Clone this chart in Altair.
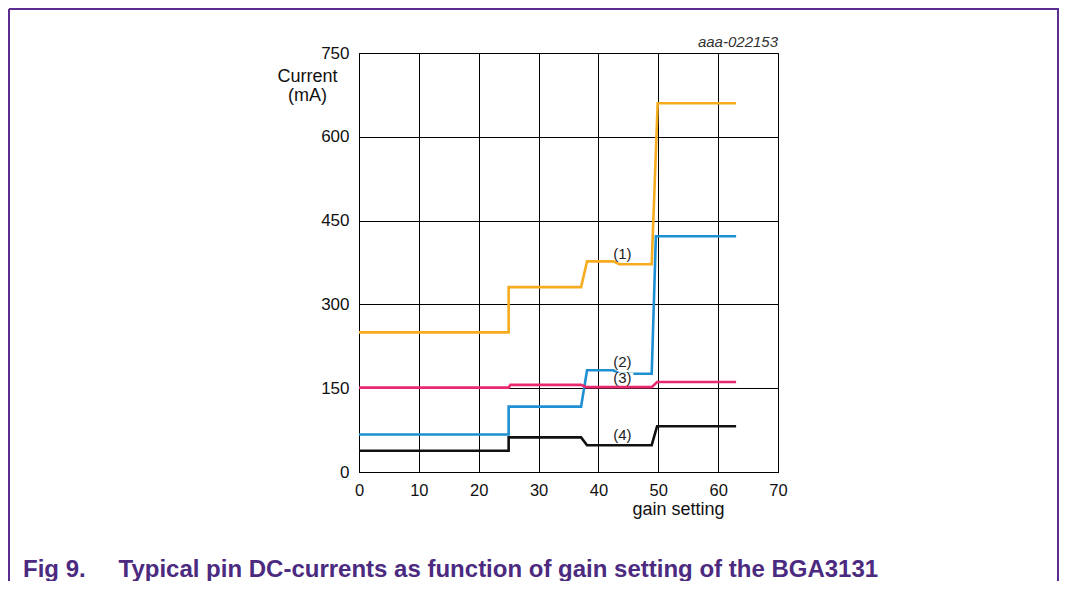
import altair as alt
import pandas as pd

# ---- data ----
x_1 = [0, 25, 25, 37.1, 38.1, 42.5, 43.5, 48.9, 49.9, 63]
y_1 = [250, 250, 331, 331, 377, 377, 372, 372, 660, 660]

x_2 = [0, 25, 25, 37.1, 38.1, 42.5, 43.5, 48.9, 49.6, 63]
y_2 = [67, 67, 117, 117, 182, 182, 176, 176, 422, 422]

x_3 = [0, 25, 25.3, 37.1, 38.0, 48.9, 49.8, 63]
y_3 = [151, 151, 156, 156, 152, 152, 161, 161]

x_4 = [0, 25, 25, 37.1, 38.1, 48.9, 49.8, 63]
y_4 = [38, 38, 62, 62, 48, 48, 82, 82]

series_names = ["(1)", "(2)", "(3)", "(4)"]
series_colors = ["#F6AC1E", "#1E8FD2", "#E8296F", "#111111"]

label_text = ["(1)", "(2)", "(3)", "(4)"]
label_x = [44, 44, 44, 44]
label_y = [391, 197, 169, 66]

x_ticks = [0, 10, 20, 30, 40, 50, 60, 70]
y_ticks = [0, 150, 300, 450, 600, 750]

FONT = "Liberation Sans"
PURPLE = "#4B2A80"

rows = []
for name, xs, ys in zip(series_names, [x_1, x_2, x_3, x_4], [y_1, y_2, y_3, y_4]):
    for i, (xv, yv) in enumerate(zip(xs, ys)):
        rows.append({"series": name, "x": xv, "y": yv, "order": i})
df = pd.DataFrame(rows)
labels = pd.DataFrame({"t": label_text, "x": label_x, "y": label_y})

xscale = alt.Scale(domain=[0, 70], nice=False, zero=False)
yscale = alt.Scale(domain=[0, 750], nice=False)

lines = alt.Chart(df).mark_line(strokeWidth=2.6, strokeJoin="miter").encode(
    x=alt.X("x:Q", scale=xscale,
            axis=alt.Axis(values=x_ticks, grid=True, gridColor="black", gridOpacity=1,
                          gridWidth=1, ticks=False, tickSize=0, domainColor="black",
                          labelFont=FONT, labelFontSize=16.5, labelColor="#111",
                          labelPadding=10, labelFlush=False,
                          title="gain setting", titleFont=FONT, titleFontSize=18,
                          titleFontWeight="normal", titleColor="#111",
                          titleX=319, titleY=42, titleBaseline="alphabetic",
                          titleAlign="center")),
    y=alt.Y("y:Q", scale=yscale,
            axis=alt.Axis(values=y_ticks, grid=True, gridColor="black", gridOpacity=1,
                          gridWidth=1, ticks=False, tickSize=0, domainColor="black",
                          labelFont=FONT, labelFontSize=17, labelColor="#111",
                          labelPadding=10, labelFlush=False,
                          title=["Current", "(mA)"], titleFont=FONT, titleFontSize=18,
                          titleFontWeight="normal", titleColor="#111", titleAngle=0,
                          titleAlign="center", titleBaseline="alphabetic",
                          titleX=-52, titleY=28, titleLineHeight=19)),
    color=alt.Color("series:N", scale=alt.Scale(domain=series_names, range=series_colors),
                    legend=None),
    order="order:Q",
)

# white boxes behind the curve labels (they interrupt the curves, as in the reference)
boxes = alt.Chart(labels).mark_point(
    shape="M-1,-0.45H1V0.45H-1Z", size=484, filled=True, color="white", opacity=1,
    strokeWidth=0).encode(
    x=alt.X("x:Q", scale=xscale), y=alt.Y("y:Q", scale=yscale))
txt = alt.Chart(labels).mark_text(font=FONT, fontSize=15, color="#222",
                                  baseline="middle").encode(
    x=alt.X("x:Q", scale=xscale), y=alt.Y("y:Q", scale=yscale), text="t:N")

code = alt.Chart(pd.DataFrame({"t": ["aaa-022153"]})).mark_text(
    font=FONT, fontSize=15, fontStyle="italic", color="#333", align="right",
    baseline="alphabetic").encode(x=alt.value(419), y=alt.value(-6), text="t:N")

cap1 = alt.Chart(pd.DataFrame({"t": ["Fig 9."]})).mark_text(
    font=FONT, fontSize=24, fontWeight="bold", color=PURPLE, align="left",
    baseline="alphabetic").encode(x=alt.value(-336), y=alt.value(523.5), text="t:N")
cap2 = alt.Chart(pd.DataFrame({"t": ["Typical pin DC-currents as function of gain setting of the BGA3131"]})).mark_text(
    font=FONT, fontSize=24, fontWeight="bold", color=PURPLE, align="left",
    baseline="alphabetic").encode(x=alt.value(-240.5), y=alt.value(523.5), text="t:N")

frame_top = alt.Chart(pd.DataFrame({"a": [0]})).mark_rule(color="#5B2D91", strokeWidth=2).encode(
    x=alt.value(-350), x2=alt.value(700), y=alt.value(-44))
frame_left = alt.Chart(pd.DataFrame({"a": [0]})).mark_rule(color="#5B2D91", strokeWidth=2).encode(
    x=alt.value(-350), y=alt.value(-44), y2=alt.value(530))
frame_right = alt.Chart(pd.DataFrame({"a": [0]})).mark_rule(color="#5B2D91", strokeWidth=2).encode(
    x=alt.value(699), y=alt.value(-44), y2=alt.value(530))

chart = alt.layer(lines, boxes, txt, code, cap1, cap2, frame_top, frame_left, frame_right).properties(
    width=419, height=419,
    autosize=alt.AutoSizeParams(type="none"),
    padding={"left": 351, "top": 45, "right": 281, "bottom": 109},
    background="white",
).configure_view(stroke="black", strokeWidth=1)

chart.save("out.html", embed_options={"renderer": "svg", "actions": False})
